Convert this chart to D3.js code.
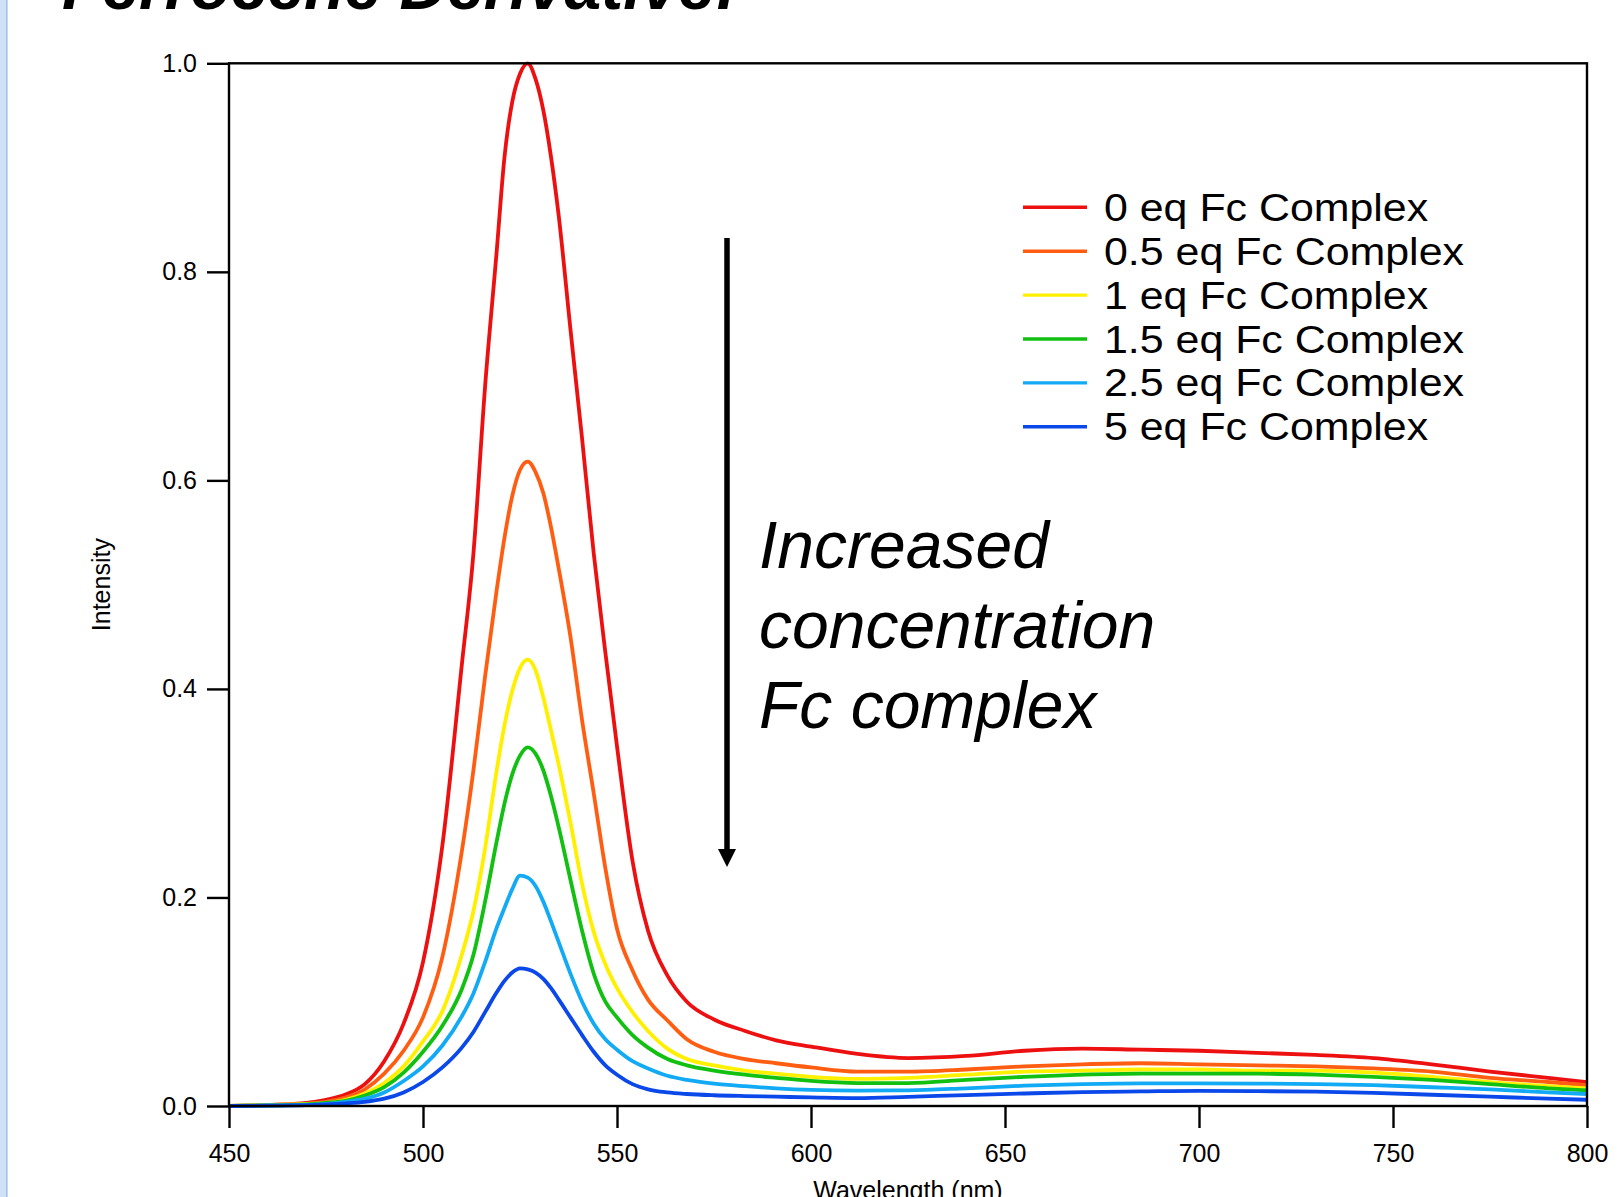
<!DOCTYPE html>
<html><head><meta charset="utf-8">
<script src="https://cdn.jsdelivr.net/npm/d3@7"></script>
<style>
html,body{margin:0;padding:0;background:#fff;overflow:hidden}
svg{display:block}
text{font-family:"Liberation Sans",Arial,Helvetica,sans-serif;fill:#000}
</style>
</head><body>
<svg id="chart" width="1624" height="1197"></svg>
<script>
// ---------------- data ----------------
const wavelengths = [450,460,470,475,480,485,490,495,500,505,510,513,516,519,521,523,525,527,529,531,533,535,538,541,544,547,550,554,558,563,568,575,583,591,600,612,625,640,655,670,685,700,715,730,745,760,775,790,800];

const eq0  = [0,0.001,0.003,0.006,0.011,0.021,0.043,0.079,0.138,0.25,0.423,0.53,0.69,0.82,0.91,0.963,0.99,1.0,0.985,0.955,0.91,0.853,0.745,0.64,0.53,0.435,0.345,0.235,0.168,0.125,0.1,0.083,0.072,0.063,0.057,0.05,0.046,0.048,0.053,0.055,0.054,0.053,0.051,0.049,0.046,0.04,0.033,0.027,0.023];
const eq05 = [0,0.001,0.002,0.004,0.008,0.016,0.031,0.053,0.085,0.143,0.244,0.322,0.412,0.495,0.545,0.585,0.61,0.618,0.608,0.588,0.555,0.515,0.45,0.37,0.30,0.228,0.17,0.13,0.102,0.082,0.064,0.052,0.045,0.041,0.037,0.033,0.033,0.035,0.038,0.04,0.041,0.04,0.039,0.038,0.036,0.033,0.027,0.023,0.02];
const eq1  = [0,0.001,0.002,0.003,0.006,0.012,0.022,0.038,0.062,0.091,0.145,0.187,0.247,0.322,0.365,0.398,0.42,0.428,0.418,0.392,0.36,0.327,0.272,0.213,0.167,0.136,0.113,0.09,0.072,0.055,0.045,0.039,0.034,0.031,0.028,0.026,0.027,0.03,0.033,0.034,0.035,0.035,0.034,0.034,0.032,0.028,0.023,0.019,0.017];
const eq15 = [0,0.0005,0.0015,0.003,0.005,0.01,0.018,0.032,0.052,0.077,0.112,0.145,0.196,0.254,0.29,0.318,0.336,0.344,0.338,0.322,0.297,0.267,0.217,0.168,0.127,0.1,0.085,0.068,0.056,0.045,0.039,0.034,0.03,0.027,0.024,0.022,0.022,0.025,0.028,0.03,0.031,0.031,0.031,0.03,0.028,0.025,0.021,0.017,0.015];
const eq25 = [0,0.0005,0.001,0.002,0.004,0.007,0.013,0.024,0.038,0.058,0.086,0.108,0.138,0.171,0.19,0.208,0.221,0.219,0.211,0.196,0.177,0.157,0.127,0.1,0.079,0.064,0.054,0.043,0.036,0.029,0.025,0.0215,0.019,0.017,0.0155,0.0148,0.015,0.017,0.0195,0.021,0.0217,0.0217,0.0215,0.021,0.02,0.018,0.016,0.013,0.0115];
const eq5  = [0,0.0003,0.0008,0.0015,0.0025,0.004,0.007,0.013,0.023,0.037,0.056,0.071,0.09,0.109,0.12,0.128,0.132,0.131,0.128,0.122,0.113,0.102,0.085,0.068,0.052,0.039,0.03,0.021,0.016,0.013,0.0115,0.0103,0.0095,0.0089,0.0082,0.0075,0.0088,0.0105,0.012,0.0133,0.014,0.0146,0.0143,0.0137,0.0125,0.0108,0.009,0.007,0.006];

const seriesLabels = ["0 eq Fc Complex","0.5 eq Fc Complex","1 eq Fc Complex","1.5 eq Fc Complex","2.5 eq Fc Complex","5 eq Fc Complex"];
const seriesValues = [eq0, eq05, eq1, eq15, eq25, eq5];
const seriesColors = ["#ec1010","#ff5e12","#fff000","#12c012","#12aaf5","#0a48ea"];

const xTicks = [450,500,550,600,650,700,750,800];
const yTicks = [0,0.2,0.4,0.6,0.8,1.0];
const xLabel = "Wavelength (nm)";
const yLabel = "Intensity";
const titleText = "Ferrocene Derivative:";
const noteLines = ["Increased","concentration","Fc complex"];

// ---------------- drawing ----------------
const svg = d3.select("#chart");
const plot = {left:229, right:1587, top:63.3, bottom:1106};
const x = d3.scaleLinear().domain([450,800]).range([plot.left, plot.right]);
const y = d3.scaleLinear().domain([0,1]).range([plot.bottom, plot.top]);

// left slide edge strip
svg.append("rect").attr("x",0).attr("y",0).attr("width",6).attr("height",1197).attr("fill","#d0e1f6");
svg.append("rect").attr("x",6).attr("y",0).attr("width",1.6).attr("height",1197).attr("fill","#9dc0ec");

// title (cut off at top, as in the source slide)
svg.append("text").attr("x",62).attr("y",9)
  .style("font-size","66px").style("font-weight","bold").style("font-style","italic")
  .text(titleText);

// series lines
const line = d3.line()
  .x((d,i)=>x(wavelengths[i]))
  .y(d=>y(d))
  .curve(d3.curveMonotoneX);

svg.append("g").selectAll("path").data(seriesValues).join("path")
  .attr("d", d=>line(d))
  .attr("fill","none")
  .attr("stroke",(d,i)=>seriesColors[i])
  .attr("stroke-width",3.8)
  .attr("stroke-linejoin","round");

// axes
const yAxis = d3.axisLeft(y).tickValues(yTicks).tickFormat(d3.format(".1f")).tickSize(22).tickSizeOuter(0).tickPadding(10);
const gy = svg.append("g").attr("transform",`translate(${plot.left},0)`).call(yAxis);
const xAxis = d3.axisBottom(x).tickValues(xTicks).tickFormat(d3.format("d")).tickSize(22).tickSizeOuter(0).tickPadding(16);
const gx = svg.append("g").attr("transform",`translate(0,${plot.bottom})`).call(xAxis);
[gx,gy].forEach(g=>{
  g.select(".domain").remove();
  g.selectAll(".tick line").attr("stroke","#000").attr("stroke-width",2.4);
  g.selectAll(".tick text").style("font-size","25px").attr("fill","#000")
   .style("font-family",'"Liberation Sans",Arial,Helvetica,sans-serif');
});

// frame
svg.append("rect").attr("x",plot.left).attr("y",plot.top)
  .attr("width",plot.right-plot.left).attr("height",plot.bottom-plot.top)
  .attr("fill","none").attr("stroke","#000").attr("stroke-width",2.4);

// axis titles
svg.append("text").attr("x",(plot.left+plot.right)/2).attr("y",1199)
  .attr("text-anchor","middle").style("font-size","25px").text(xLabel);
svg.append("text").attr("transform",`translate(110,${(plot.top+plot.bottom)/2}) rotate(-90)`)
  .attr("text-anchor","middle").style("font-size","25px").text(yLabel);

// legend
const legend = svg.append("g");
seriesLabels.forEach((lab,i)=>{
  const ly = 207.3 + i*43.9;
  legend.append("line").attr("x1",1023).attr("x2",1087).attr("y1",ly).attr("y2",ly)
    .attr("stroke",seriesColors[i]).attr("stroke-width",3.4);
  legend.append("text").attr("transform",`translate(1104,${ly+13.5}) scale(1.1,1)`)
    .style("font-size","39px").text(lab);
});

// annotation arrow
const ax = 727;
svg.append("line").attr("x1",ax).attr("x2",ax).attr("y1",238).attr("y2",852)
  .attr("stroke","#000").attr("stroke-width",5.5);
svg.append("path").attr("d",`M${ax-9},849 L${ax+9},849 L${ax},867 Z`).attr("fill","#000");

// annotation text
noteLines.forEach((t,i)=>{
  svg.append("text").attr("x",759).attr("y",568+i*80)
    .style("font-size","66px").style("font-style","italic").text(t);
});
</script>
</body></html>
